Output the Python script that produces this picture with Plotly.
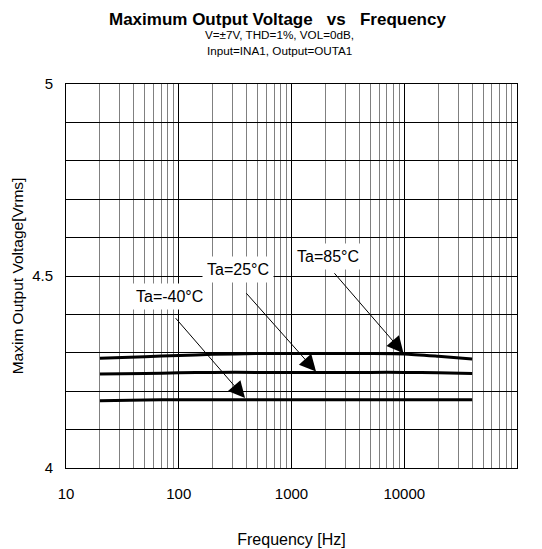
import numpy as np
import plotly.graph_objects as go

# ---- data ----
freq = [20, 50, 100, 200, 500, 1000, 2000, 5000, 10000, 20000, 40000]
v_85 = [4.286, 4.290, 4.293, 4.296, 4.298, 4.298, 4.298, 4.298, 4.297, 4.291, 4.284]
v_25 = [4.245, 4.246, 4.248, 4.249, 4.249, 4.249, 4.249, 4.249, 4.249, 4.248, 4.246]
v_m40 = [4.175, 4.177, 4.178, 4.178, 4.178, 4.178, 4.178, 4.178, 4.178, 4.178, 4.178]
series_names = ["Ta=85°C", "Ta=25°C", "Ta=-40°C"]

# annotation label centres and arrow tail/tip (frequency, voltage)
label_f = [2090, 333, 83]
label_v = [4.550, 4.517, 4.4475]
tail_f = [2340, 387, 91.4]
tail_v = [4.511, 4.459, 4.394]
tip_f = [9850, 1650, 387]
tip_v = [4.299, 4.251, 4.182]

x_major = [10, 100, 1000, 10000, 100000]
x_major_text = ["10", "100", "1000", "10000", "100000"]
x_minor = [m * d for d in [10, 100, 1000, 10000] for m in range(2, 10)]
y_ticks = [4.0, 4.1, 4.2, 4.3, 4.4, 4.5, 4.6, 4.7, 4.8, 4.9, 5.0]
y_text = ["4", "", "", "", "", "4.5", "", "", "", "", "5"]

FONT = "Liberation Sans, Arial, sans-serif"

fig = go.Figure()
for name, vals in zip(series_names, [v_85, v_25, v_m40]):
    fig.add_trace(go.Scatter(x=freq, y=vals, mode="lines", name=name,
                             line=dict(color="black", width=3, shape="spline", smoothing=0.6),
                             showlegend=False, hoverinfo="skip"))

annotations = []
for i, name in enumerate(series_names):
    annotations.append(dict(
        x=np.log10(tip_f[i]), y=tip_v[i], xref="x", yref="y",
        ax=np.log10(tail_f[i]), ay=tail_v[i], axref="x", ayref="y",
        text="", showarrow=True, arrowhead=2, arrowsize=3.3, arrowwidth=1,
        arrowcolor="black", standoff=0, startstandoff=0))
    annotations.append(dict(
        x=np.log10(label_f[i]), y=label_v[i], xref="x", yref="y",
        text=name, showarrow=False, bgcolor="white", borderpad=4,
        font=dict(family=FONT, size=16, color="black"),
        xanchor="center", yanchor="middle"))

# titles
annotations.append(dict(
    x=0.4686, y=1 + (84 - 19.7) / 384.3, xref="paper", yref="paper",
    text="<b>Maximum Output Voltage   vs   Frequency</b>", showarrow=False,
    font=dict(family=FONT, size=17, color="black"), xanchor="center", yanchor="middle"))
annotations.append(dict(
    x=0.4726, y=1 + (84 - 34.6) / 384.3, xref="paper", yref="paper",
    text="V=±7V, THD=1%, VOL=0dB,", showarrow=False,
    font=dict(family=FONT, size=11.7, color="black"), xanchor="center", yanchor="middle"))
annotations.append(dict(
    x=0.4726, y=1 + (84 - 50) / 384.3, xref="paper", yref="paper",
    text="Input=INA1, Output=OUTA1", showarrow=False,
    font=dict(family=FONT, size=11.7, color="black"), xanchor="center", yanchor="middle"))

fig.update_layout(
    width=534, height=541,
    margin=dict(l=58, r=25.3, t=76, b=80.7, autoexpand=False),
    paper_bgcolor="white", plot_bgcolor="white",
    font=dict(family=FONT, size=15, color="black"),
    annotations=annotations,
    xaxis=dict(
        type="log", range=[1, 5], tickvals=x_major, ticktext=x_major_text,
        showgrid=True, gridcolor="black", gridwidth=1,
        minor=dict(tickvals=x_minor, showgrid=True, gridcolor="#808080", gridwidth=1, ticks=""),
        showline=True, linecolor="black", linewidth=1, mirror=True,
        ticks="outside", ticklen=12, tickcolor="rgba(0,0,0,0)",
        tickfont=dict(family=FONT, size=15),
        title=dict(text="Frequency [Hz]", font=dict(family=FONT, size=16), standoff=32),
        zeroline=False, automargin=False),
    yaxis=dict(
        range=[4, 5], tickvals=y_ticks, ticktext=y_text,
        showgrid=True, gridcolor="black", gridwidth=1,
        showline=True, linecolor="black", linewidth=1, mirror=True,
        ticks="outside", ticklen=9, tickcolor="rgba(0,0,0,0)",
        tickfont=dict(family=FONT, size=15),
        title=dict(text="Maxim Output Voltage[Vrms]", font=dict(family=FONT, size=15.5), standoff=4),
        zeroline=False, automargin=False),
)

fig.write_html("out.html")
